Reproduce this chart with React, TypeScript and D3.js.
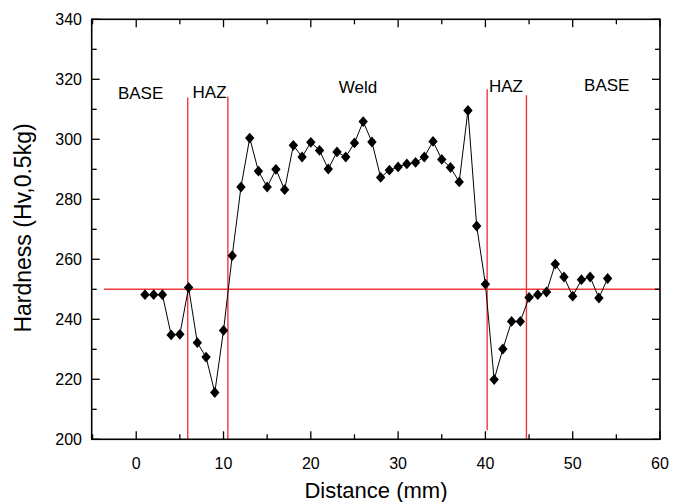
import React from "react";
import * as d3 from "d3";

const distance = [1,2,3,4,5,6,7,8,9,10,11,12,13,14,15,16,17,18,19,20,21,22,23,24,25,26,27,28,29,30,31,32,33,34,35,36,37,38,39,40,41,42,43,44,45,46,47,48,49,50,51,52,53,54];
const hardness = [248.2,248.2,248.2,234.8,235,250.6,232.2,227.4,215.6,236.3,261.2,284.1,300.4,289.4,284.1,290,283.2,298,294.1,299,296.3,290.1,295.8,294.1,298.8,305.9,299.1,287.3,289.7,290.8,291.8,292.3,294.1,299.3,293.3,290.6,285.8,309.6,271.1,251.7,219.9,230.1,239.3,239.3,247.3,248.2,249.1,258.4,254.1,247.7,253.2,254.1,247.1,253.6];

const boundaryX = [5.9, 10.5, 40.2, 44.7];
const boundaryTop = [313.9, 314.3, 316.7, 314.7];
const boundaryBottom = [200, 200, 203, 200];
const referenceLevel = 250;
const referenceStart = -3.7;

const regionLabels = ["BASE", "HAZ", "Weld", "HAZ", "BASE"];
const regionX = [-2.1, 6.45, 23.2, 40.4, 51.3];
const regionY = [313.4, 313.8, 315.4, 315.8, 316.1];

const xTicks = [0, 10, 20, 30, 40, 50, 60];
const xMinor = [-5, 5, 15, 25, 35, 45, 55];
const yTicks = [200, 220, 240, 260, 280, 300, 320, 340];
const yMinor = [210, 230, 250, 270, 290, 310, 330];

export default function App() {
  const left = 91.7, right = 660, top = 19.3, bottom = 439.3;
  const x = d3.scaleLinear().domain([-5.1, 60]).range([left, right]);
  const y = d3.scaleLinear().domain([200, 340]).range([bottom, top]);
  const line = d3.line<number>().x((_, i) => x(distance[i])).y((d) => y(d));
  const diamond = "M0,-5.4L4.7,0L0,5.4L-4.7,0Z";
  const red = "#f03a3a";
  const font = "Liberation Sans, Arial, sans-serif";
  const major = 8, minor = 5;
  return (
    <svg width={683} height={502} style={{ position: "absolute", left: 0, top: 0 }} fontFamily={font}>
      <rect width={683} height={502} fill="#fff" />
      <line x1={x(referenceStart)} x2={x(60)} y1={y(referenceLevel)} y2={y(referenceLevel)} stroke={red} strokeWidth={1.4} />
      {boundaryX.map((b, i) => (
        <line key={"b" + i} x1={x(b)} x2={x(b)} y1={y(boundaryTop[i])} y2={y(boundaryBottom[i])} stroke={red} strokeWidth={1.4} />
      ))}
      <path d={line(hardness) || ""} fill="none" stroke="#000" strokeWidth={1} />
      {hardness.map((h, i) => (
        <path key={"p" + i} d={diamond} transform={`translate(${x(distance[i])},${y(h)})`} fill="#000" />
      ))}
      <rect x={left} y={top} width={right - left} height={bottom - top} fill="none" stroke="#000" strokeWidth={1.6} />
      {xTicks.map((t) => (
        <g key={"xt" + t}>
          <line x1={x(t)} x2={x(t)} y1={bottom} y2={bottom - major} stroke="#000" strokeWidth={1.3} />
          <line x1={x(t)} x2={x(t)} y1={top} y2={top + major} stroke="#000" strokeWidth={1.3} />
          <text x={x(t)} y={469} textAnchor="middle" fontSize={16}>{t}</text>
        </g>
      ))}
      {xMinor.map((t) => (
        <g key={"xm" + t}>
          <line x1={x(t)} x2={x(t)} y1={bottom} y2={bottom - minor} stroke="#000" strokeWidth={1.3} />
          <line x1={x(t)} x2={x(t)} y1={top} y2={top + minor} stroke="#000" strokeWidth={1.3} />
        </g>
      ))}
      {yTicks.map((t) => (
        <g key={"yt" + t}>
          <line x1={left} x2={left + major} y1={y(t)} y2={y(t)} stroke="#000" strokeWidth={1.3} />
          <line x1={right} x2={right - major} y1={y(t)} y2={y(t)} stroke="#000" strokeWidth={1.3} />
          <text x={82} y={y(t)} dy="0.35em" textAnchor="end" fontSize={16}>{t}</text>
        </g>
      ))}
      {yMinor.map((t) => (
        <g key={"ym" + t}>
          <line x1={left} x2={left + minor} y1={y(t)} y2={y(t)} stroke="#000" strokeWidth={1.3} />
          <line x1={right} x2={right - minor} y1={y(t)} y2={y(t)} stroke="#000" strokeWidth={1.3} />
        </g>
      ))}
      {regionLabels.map((l, i) => (
        <text key={"r" + i} x={x(regionX[i])} y={y(regionY[i])} fontSize={17}>{l}</text>
      ))}
      <text x={376} y={498} textAnchor="middle" fontSize={22}>Distance (mm)</text>
      <text transform={`translate(31,228) rotate(-90)`} textAnchor="middle" fontSize={23}>Hardness (Hv,0.5kg)</text>
    </svg>
  );
}
